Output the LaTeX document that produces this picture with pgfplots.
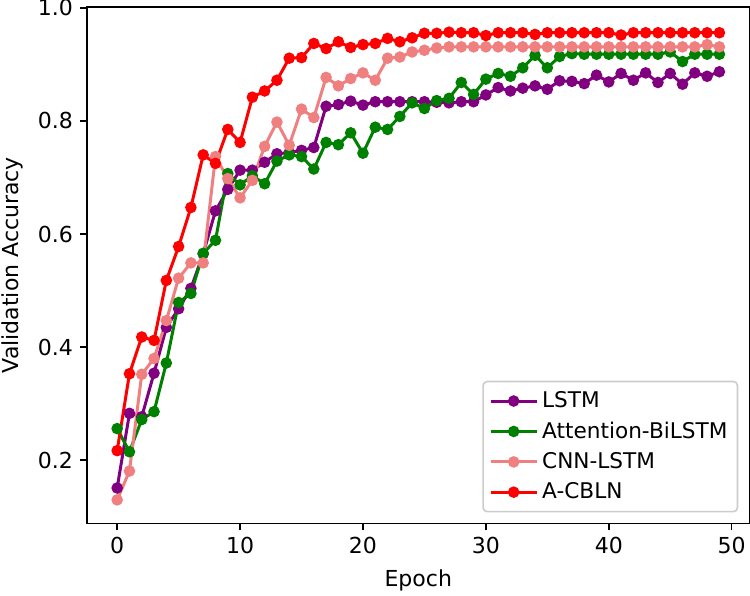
\documentclass[border=0pt]{standalone}
\usepackage{fontspec}
\setmainfont{DejaVu Sans}
\usepackage{pgfplots}
\pgfplotsset{compat=1.18}
\definecolor{mpurple}{HTML}{800080}
\definecolor{mgreen}{HTML}{008000}
\definecolor{mcoral}{HTML}{F08080}
\definecolor{mred}{HTML}{FF0000}
\begin{document}
\begin{tikzpicture}
\begin{axis}[
  scale only axis,
  width=331pt, height=258pt,
  xmin=-2.45, xmax=51.45,
  ymin=0.0885, ymax=1.0015,
  xtick={0,10,20,30,40,50},
  ytick={0.2,0.4,0.6,0.8,1.0},
  y tick label style={/pgf/number format/fixed,/pgf/number format/fixed zerofill,/pgf/number format/precision=1},
  /pgf/number format/assume math mode=true,
  tick pos=left,
  tick align=outside,
  major tick length=3.5pt,
  tick style={black, line width=0.8pt},
  axis line style={line width=0.8pt},
  font=\fontsize{11}{13}\selectfont,
  tick label style={font=\fontsize{11}{13}\selectfont},
  xlabel={Epoch},
  ylabel={Validation Accuracy},
  xlabel style={at={(axis description cs:0.5,-0.1105)}, anchor=center},
  ylabel style={at={(axis description cs:-0.1133,0.5)}, anchor=center},
  every axis plot/.append style={line width=1.5pt, mark=*, mark size=2.1pt, mark options={solid}},
  legend style={at={(rel axis cs:0.983,0.021)}, anchor=south east, draw=black!20, rounded corners=2pt, line width=0.8pt, fill=white, font=\fontsize{10.8}{13}\selectfont, row sep=1.6pt, inner xsep=3pt, inner ysep=3pt},
  legend cell align=left,
  legend image code/.code={\draw[mark repeat=2,mark phase=2] plot coordinates {(0pt,0pt) (11.5pt,0pt) (23pt,0pt)};},
]
\coordinate (SW) at (rel axis cs:0,0);
\coordinate (NE) at (rel axis cs:1,1);
\addplot[color=mpurple] coordinates {
(0,0.151) (1,0.283) (2,0.277) (3,0.354) (4,0.435) (5,0.468) (6,0.504) (7,0.565) (8,0.641) (9,0.679)
(10,0.713) (11,0.713) (12,0.727) (13,0.742) (14,0.744) (15,0.748) (16,0.753) (17,0.826) (18,0.829) (19,0.835)
(20,0.828) (21,0.834) (22,0.834) (23,0.834) (24,0.834) (25,0.834) (26,0.833) (27,0.832) (28,0.834) (29,0.834)
(30,0.846) (31,0.859) (32,0.853) (33,0.858) (34,0.862) (35,0.856) (36,0.871) (37,0.870) (38,0.866) (39,0.881)
(40,0.869) (41,0.884) (42,0.872) (43,0.885) (44,0.868) (45,0.884) (46,0.865) (47,0.885) (48,0.879) (49,0.887)
};
\addlegendentry{LSTM}
\addplot[color=mgreen] coordinates {
(0,0.256) (1,0.215) (2,0.272) (3,0.286) (4,0.372) (5,0.479) (6,0.495) (7,0.566) (8,0.589) (9,0.707)
(10,0.687) (11,0.703) (12,0.689) (13,0.729) (14,0.740) (15,0.737) (16,0.715) (17,0.762) (18,0.758) (19,0.779)
(20,0.743) (21,0.789) (22,0.785) (23,0.808) (24,0.832) (25,0.822) (26,0.836) (27,0.840) (28,0.868) (29,0.847)
(30,0.874) (31,0.884) (32,0.879) (33,0.894) (34,0.916) (35,0.894) (36,0.914) (37,0.919) (38,0.918) (39,0.918)
(40,0.918) (41,0.918) (42,0.918) (43,0.918) (44,0.918) (45,0.922) (46,0.905) (47,0.918) (48,0.918) (49,0.918)
};
\addlegendentry{Attention-BiLSTM}
\addplot[color=mcoral] coordinates {
(0,0.130) (1,0.181) (2,0.352) (3,0.380) (4,0.447) (5,0.522) (6,0.549) (7,0.549) (8,0.737) (9,0.698)
(10,0.664) (11,0.695) (12,0.755) (13,0.798) (14,0.757) (15,0.821) (16,0.806) (17,0.877) (18,0.862) (19,0.875)
(20,0.885) (21,0.872) (22,0.911) (23,0.913) (24,0.922) (25,0.925) (26,0.929) (27,0.931) (28,0.931) (29,0.931)
(30,0.931) (31,0.931) (32,0.931) (33,0.931) (34,0.931) (35,0.931) (36,0.931) (37,0.931) (38,0.931) (39,0.931)
(40,0.931) (41,0.931) (42,0.931) (43,0.931) (44,0.931) (45,0.931) (46,0.931) (47,0.931) (48,0.935) (49,0.931)
};
\addlegendentry{CNN-LSTM}
\addplot[color=mred] coordinates {
(0,0.217) (1,0.353) (2,0.418) (3,0.412) (4,0.518) (5,0.578) (6,0.647) (7,0.740) (8,0.725) (9,0.785)
(10,0.762) (11,0.842) (12,0.853) (13,0.872) (14,0.911) (15,0.912) (16,0.937) (17,0.928) (18,0.940) (19,0.930)
(20,0.935) (21,0.937) (22,0.946) (23,0.940) (24,0.947) (25,0.955) (26,0.955) (27,0.957) (28,0.956) (29,0.956)
(30,0.951) (31,0.956) (32,0.956) (33,0.956) (34,0.953) (35,0.956) (36,0.956) (37,0.956) (38,0.956) (39,0.956)
(40,0.956) (41,0.952) (42,0.956) (43,0.956) (44,0.956) (45,0.956) (46,0.956) (47,0.956) (48,0.956) (49,0.956)
};
\addlegendentry{A-CBLN}
\end{axis}
\pgfresetboundingbox
\path[use as bounding box] ([xshift=-43.5pt,yshift=-36pt]SW) rectangle ([xshift=0.25pt,yshift=3.5pt]NE);
\end{tikzpicture}
\end{document}
